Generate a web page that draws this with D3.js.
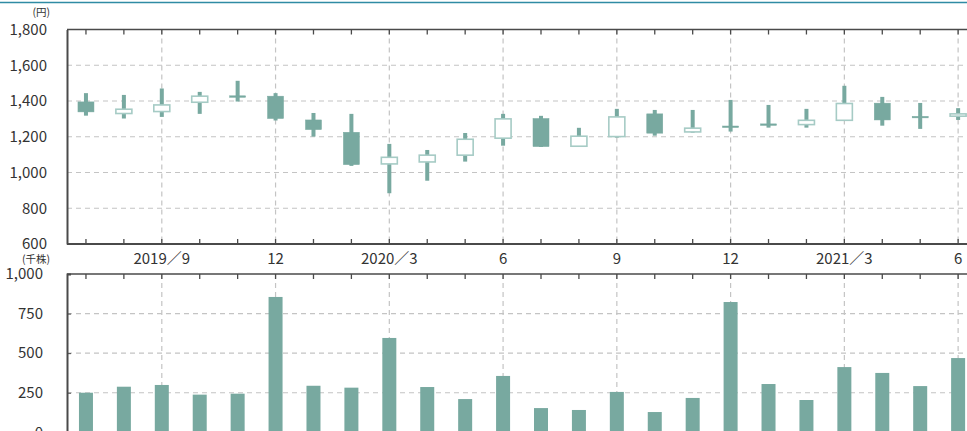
<!DOCTYPE html>
<html><head><meta charset="utf-8">
<script src="https://cdn.jsdelivr.net/npm/d3@7"></script>
<style>
html,body{margin:0;padding:0;background:#fff;overflow:hidden;}
svg{display:block;}
text{font-family:"Noto Sans CJK JP","Noto Sans",sans-serif;fill:#333;}
</style></head><body>
<svg id="c" width="967" height="431"></svg>
<script>
const months = ["2019/7","2019/8","2019/9","2019/10","2019/11","2019/12","2020/1","2020/2","2020/3","2020/4","2020/5","2020/6","2020/7","2020/8","2020/9","2020/10","2020/11","2020/12","2021/1","2021/2","2021/3","2021/4","2021/5","2021/6"];
const openV  = [1395,1330,1341,1393,1429,1427,1294,1225,1048,1059,1097,1192,1302,1147,1201,1328,1227,1260,1272,1268,1292,1388,1314,1315];
const closeV = [1339,1354,1378,1427,1422,1302,1240,1044,1085,1097,1186,1300,1145,1203,1311,1220,1248,1254,1266,1292,1386,1294,1308,1328];
const highV  = [1444,1434,1470,1451,1513,1444,1333,1328,1160,1126,1221,1328,1317,1250,1356,1350,1350,1406,1378,1356,1485,1423,1389,1360];
const lowV   = [1318,1302,1311,1328,1397,1291,1201,1037, 884, 954,1061,1150,1143,1143,1195,1206,1223,1229,1251,1251,1290,1262,1244,1294];
const volume = [250,288,299,238,244,855,294,282,596,286,210,356,153,141,255,128,217,823,305,204,412,375,292,469];
const priceTicks = [600,800,1000,1200,1400,1600,1800];
const volTicks = [0,250,500,750,1000];
const xLabels = {"2019/9":"2019／9","2019/12":"12","2020/3":"2020／3","2020/6":"6","2020/9":"9","2020/12":"12","2021/3":"2021／3","2021/6":"6"};

const W = 967;
const svg = d3.select("#c");
const left = 67, step = 37.92;
const x = d3.scaleBand().domain(months).range([left, left + step*months.length]).padding(0);
const cx = m => x(m) + x.bandwidth()/2;
const yP = d3.scaleLinear().domain([600,1800]).range([244,29.5]);
const yV = d3.scaleLinear().domain([0,1000]).range([432.3,274]);

const axisCol = "#4a4a4a", gridCol = "#c4c4c4";
const fillCol = "#78a9a0", hollowStroke = "#a6cbc5";

// top blue rule
svg.append("line").attr("x1",0).attr("x2",W).attr("y1",2.5).attr("y2",2.5).attr("stroke","#2f8ba4").attr("stroke-width",1.5);

const quarter = months.filter(m => xLabels[m]);

function grid(g, yScale, vals, y0, y1){
  g.selectAll(".hg").data(vals).join("line")
    .attr("x1",left).attr("x2",W).attr("y1",d=>yScale(d)).attr("y2",d=>yScale(d))
    .attr("stroke",gridCol).attr("stroke-width",1.2).attr("stroke-dasharray","5,4");
  g.selectAll(".vg").data(quarter).join("line")
    .attr("x1",d=>cx(d)).attr("x2",d=>cx(d)).attr("y1",y0).attr("y2",y1)
    .attr("stroke",gridCol).attr("stroke-width",1.2).attr("stroke-dasharray","5,4");
}

// ===== Price chart =====
const gp = svg.append("g");
grid(gp, yP, [800,1000,1200,1400,1600], yP(1800), yP(600));

gp.append("line").attr("x1",left).attr("x2",W).attr("y1",yP(1800)).attr("y2",yP(1800)).attr("stroke",axisCol).attr("stroke-width",1.5);
gp.append("line").attr("x1",left).attr("x2",W).attr("y1",yP(600)).attr("y2",yP(600)).attr("stroke",axisCol).attr("stroke-width",2);
gp.selectAll(".tt").data(months).join("line").attr("x1",d=>cx(d)).attr("x2",d=>cx(d)).attr("y1",yP(1800)).attr("y2",yP(1800)+5).attr("stroke",axisCol).attr("stroke-width",1.3);
gp.selectAll(".bt").data(months).join("line").attr("x1",d=>cx(d)).attr("x2",d=>cx(d)).attr("y1",yP(600)).attr("y2",yP(600)-5).attr("stroke",axisCol).attr("stroke-width",1.3);

const ayP = d3.axisLeft(yP).tickValues(priceTicks).tickSize(0).tickPadding(20).tickFormat(d3.format(","));
const axP = gp.append("g").attr("transform",`translate(${left},0)`).call(ayP);
axP.select(".domain").attr("stroke",axisCol).attr("stroke-width",2);
axP.selectAll("text").attr("font-size",15).attr("fill","#333").attr("font-family","Roboto,'Noto Sans',sans-serif");
gp.append("text").attr("x",50).attr("y",16).attr("text-anchor","end").attr("font-size",10.5).text("(円)");

// candles
const data = months.map((m,i)=>({m, o:openV[i], c:closeV[i], h:highV[i], l:lowV[i]}));
const cg = gp.selectAll(".candle").data(data).join("g");
cg.append("rect").attr("x",d=>cx(d.m)-2).attr("width",4)
  .attr("y",d=>yP(d.h)).attr("height",d=>yP(d.l)-yP(d.h)).attr("fill",fillCol);
cg.append("rect")
  .attr("x",d=>cx(d.m)-8).attr("width",16)
  .attr("y",d=>yP(Math.max(d.o,d.c)))
  .attr("height",d=>Math.max(1.5, yP(Math.min(d.o,d.c))-yP(Math.max(d.o,d.c))))
  .attr("fill",d=>d.c>=d.o?"#fff":fillCol)
  .attr("stroke",d=>d.c>=d.o?hollowStroke:fillCol)
  .attr("stroke-width",d=>d.c>=d.o?1.6:0.5);

// x labels
svg.selectAll(".xl").data(quarter).join("text")
  .attr("x",d=>cx(d)).attr("y",264).attr("text-anchor","middle").attr("font-size",15)
  .text(d=>xLabels[d]);

// ===== Volume chart =====
const gv = svg.append("g");
grid(gv, yV, [250,500,750], yV(1000), 431);
gv.selectAll(".vb").data(months).join("rect")
  .attr("x",d=>cx(d)-7).attr("width",14)
  .attr("y",(d,i)=>yV(volume[i])).attr("height",(d,i)=>yV(0)-yV(volume[i]))
  .attr("fill",fillCol);
gv.append("line").attr("x1",left).attr("x2",W).attr("y1",yV(1000)).attr("y2",yV(1000)).attr("stroke",axisCol).attr("stroke-width",1.5);
gv.selectAll(".vt").data(months).join("line").attr("x1",d=>cx(d)).attr("x2",d=>cx(d)).attr("y1",yV(1000)).attr("y2",yV(1000)+5).attr("stroke",axisCol).attr("stroke-width",1.3);
const ayV = d3.axisLeft(yV).tickValues(volTicks).tickSize(-4).tickPadding(24).tickFormat(d3.format(","));
const axV = gv.append("g").attr("transform",`translate(${left},0)`).call(ayV);
axV.select(".domain").attr("stroke",axisCol).attr("stroke-width",2);
axV.selectAll(".tick line").attr("stroke",axisCol);
axV.selectAll("text").attr("font-size",15).attr("fill","#333").attr("font-family","Roboto,'Noto Sans',sans-serif");
gv.append("text").attr("x",50).attr("y",263).attr("text-anchor","end").attr("font-size",10.5).text("(千株)");
</script>
</body></html>
